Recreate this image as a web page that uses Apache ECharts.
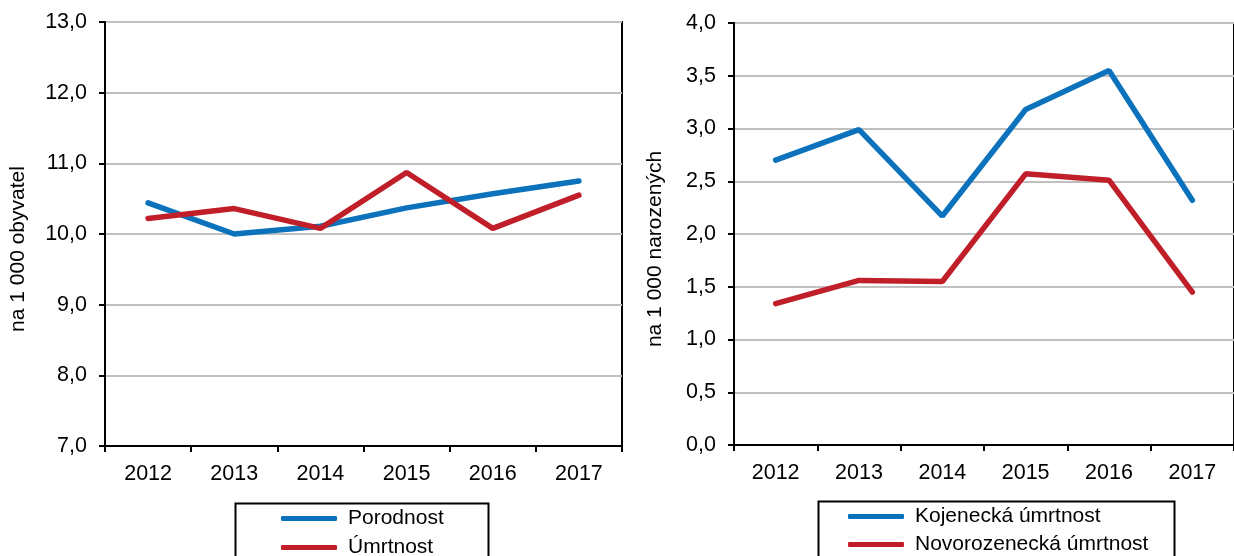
<!DOCTYPE html>
<html>
<head>
<meta charset="utf-8">
<script src="https://cdn.jsdelivr.net/npm/echarts@6/dist/echarts.min.js"></script>
<style>
html,body{margin:0;padding:0;background:#fff;}
#c{width:1234px;height:556px;}
</style>
</head>
<body>
<div id="c"></div>
<script>
var years = ['2012', '2013', '2014', '2015', '2016', '2017'];
var porodnost = [10.44, 10.0, 10.11, 10.37, 10.57, 10.75];
var umrtnost = [10.22, 10.36, 10.08, 10.87, 10.08, 10.55];
var kojenecka = [2.70, 2.99, 2.17, 3.18, 3.55, 2.32];
var novorozenecka = [1.34, 1.56, 1.55, 2.57, 2.51, 1.45];
var leftNames = ['Porodnost', 'Úmrtnost'];
var rightNames = ['Kojenecká úmrtnost', 'Novorozenecká úmrtnost'];
var leftAxisName = 'na 1 000 obyvatel';
var rightAxisName = 'na 1 000 narozených';

var FONT = "'Liberation Sans', Arial, sans-serif";
var BLUE = '#0b72bb';
var RED = '#c01f2a';

function fmt(v) { return v.toFixed(1).replace('.', ','); }

function xAxisCfg(gi) {
  return {
    type: 'category', gridIndex: gi, data: years, boundaryGap: true,
    axisLine: {lineStyle: {color: '#000', width: 2}},
    axisTick: {show: true, length: 6, lineStyle: {color: '#000', width: 2}},
    axisLabel: {color: '#000', fontSize: 21.5, fontFamily: FONT, margin: 17},
    splitLine: {show: false}
  };
}
function yAxisCfg(gi, min, max, interval, name, gap) {
  return {
    type: 'value', gridIndex: gi, min: min, max: max, interval: interval,
    name: name, nameLocation: 'middle', nameGap: gap,
    nameTextStyle: {color: '#000', fontSize: 21, fontFamily: FONT, padding: [0, 30, 0, 0]},
    axisLine: {show: true, lineStyle: {color: '#000', width: 2}},
    axisTick: {show: true, length: 6, lineStyle: {color: '#000', width: 2}},
    axisLabel: {color: '#000', fontSize: 21.5, fontFamily: FONT, margin: 18, formatter: fmt},
    splitLine: {show: true, lineStyle: {color: '#c0c0c0', width: 2}}
  };
}
function lineSeries(name, data, gi, color) {
  return {
    type: 'line', name: name, data: data, xAxisIndex: gi, yAxisIndex: gi,
    symbol: 'none', animation: false,
    lineStyle: {color: color, width: 5.5, cap: 'round'},
    itemStyle: {color: color}
  };
}
function legendCfg(names, left, top, gap) {
  return {
    data: names, orient: 'vertical', left: left, top: top,
    width: 400, height: 150,
    icon: 'roundRect', itemWidth: 56, itemHeight: 5, itemGap: gap,
    padding: 0, selectedMode: false,
    textStyle: {color: '#000', fontSize: 21, fontFamily: FONT, lineHeight: 20, padding: [0, 0, 0, 6]}
  };
}

var chart = echarts.init(document.getElementById('c'), null, {renderer: 'canvas'});
chart.setOption({
  animation: false,
  backgroundColor: '#fff',
  grid: [
    {left: 105, top: 22, width: 517, height: 424, show: true, borderColor: '#000', borderWidth: 2, containLabel: false},
    {left: 734, top: 23, width: 512, height: 422, show: true, borderColor: '#000', borderWidth: 2, containLabel: false}
  ],
  xAxis: [xAxisCfg(0), xAxisCfg(1)],
  yAxis: [
    yAxisCfg(0, 7, 13, 1, leftAxisName, 76),
    yAxisCfg(1, 0, 4, 0.5, rightAxisName, 68)
  ],
  legend: [
    legendCfg(leftNames, 281, 508, 8),
    legendCfg(rightNames, 848, 506, 7)
  ],
  graphic: [
    {type: 'rect', left: 233, top: 501, shape: {width: 253, height: 70}, style: {fill: 'none', stroke: '#000', lineWidth: 2}, z: 10},
    {type: 'rect', left: 816, top: 499, shape: {width: 356, height: 70}, style: {fill: 'none', stroke: '#000', lineWidth: 2}, z: 10}
  ],
  series: [
    lineSeries(leftNames[0], porodnost, 0, BLUE),
    lineSeries(leftNames[1], umrtnost, 0, RED),
    lineSeries(rightNames[0], kojenecka, 1, BLUE),
    lineSeries(rightNames[1], novorozenecka, 1, RED)
  ]
});
</script>
</body>
</html>
